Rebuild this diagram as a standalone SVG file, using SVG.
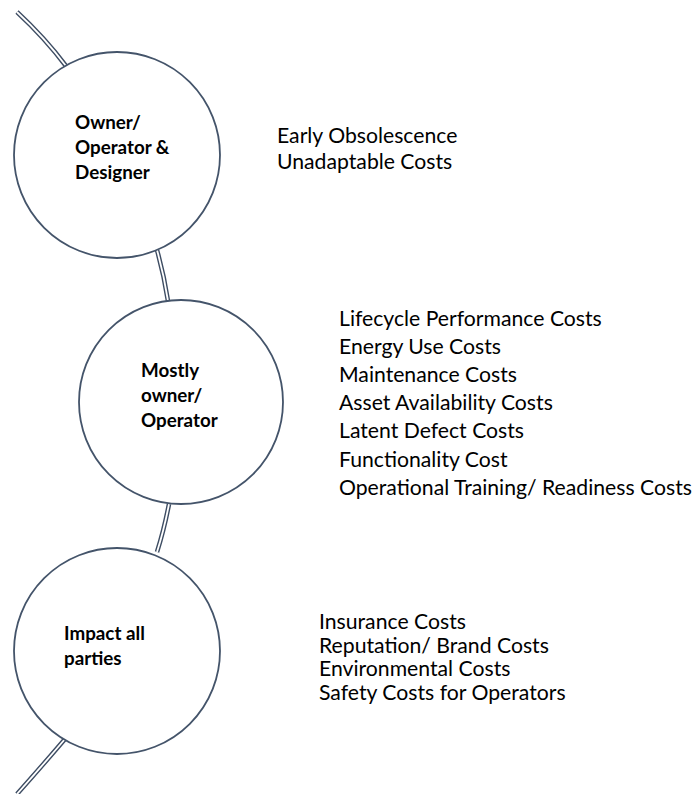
<svg xmlns="http://www.w3.org/2000/svg" width="696" height="794" viewBox="0 0 696 794">
<style>
.node circle{fill:#fff;stroke:#44546A;stroke-width:1.8}
.lbl{font-family:Lato,"Open Sans",sans-serif;font-weight:bold;font-size:18.8px;fill:#000}
.item{font-family:Lato,"Open Sans",sans-serif;font-size:21.2px;fill:#000}
.c-out{fill:none;stroke:#3E4D63;stroke-width:4.6}
.c-in{fill:none;stroke:#fff;stroke-width:1.8}
</style>
<rect width="696" height="794" fill="#fff"/>
<g id="connectors">
<path class="c-out" d="M17,12 Q45,38 66,66"/>
<path class="c-in" d="M17,12 Q45,38 66,66"/>
<path class="c-out" d="M157,250 Q164,275 168,301"/>
<path class="c-in" d="M157,250 Q164,275 168,301"/>
<path class="c-out" d="M169,504 Q164,530 157,552"/>
<path class="c-in" d="M169,504 Q164,530 157,552"/>
<path class="c-out" d="M65,739 Q42,766 17,794"/>
<path class="c-in" d="M65,739 Q42,766 17,794"/>
</g>
<g id="node1" class="node">
<circle cx="117" cy="155" r="103"/>
<text class="lbl" x="75" y="129">Owner/</text>
<text class="lbl" x="75" y="154">Operator &amp;</text>
<text class="lbl" x="75" y="179">Designer</text>
</g>
<g id="node2" class="node">
<circle cx="181" cy="402" r="102"/>
<text class="lbl" x="141" y="377">Mostly</text>
<text class="lbl" x="141" y="402">owner/</text>
<text class="lbl" x="141" y="427">Operator</text>
</g>
<g id="node3" class="node">
<circle cx="117" cy="651" r="103"/>
<text class="lbl" x="64" y="640">Impact all</text>
<text class="lbl" x="64" y="665">parties</text>
</g>
<g id="list1">
<text class="item" x="277" y="143">Early Obsolescence</text>
<text class="item" x="277" y="169">Unadaptable Costs</text>
</g>
<g id="list2">
<text class="item" x="339" y="326">Lifecycle Performance Costs</text>
<text class="item" x="339" y="354">Energy Use Costs</text>
<text class="item" x="339" y="382">Maintenance Costs</text>
<text class="item" x="339" y="410">Asset Availability Costs</text>
<text class="item" x="339" y="438">Latent Defect Costs</text>
<text class="item" x="339" y="467">Functionality Cost</text>
<text class="item" x="339" y="495">Operational Training/ Readiness Costs</text>
</g>
<g id="list3">
<text class="item" x="319" y="629">Insurance Costs</text>
<text class="item" x="319" y="652.5">Reputation/ Brand Costs</text>
<text class="item" x="319" y="676">Environmental Costs</text>
<text class="item" x="319" y="699.5">Safety Costs for Operators</text>
</g>
</svg>
